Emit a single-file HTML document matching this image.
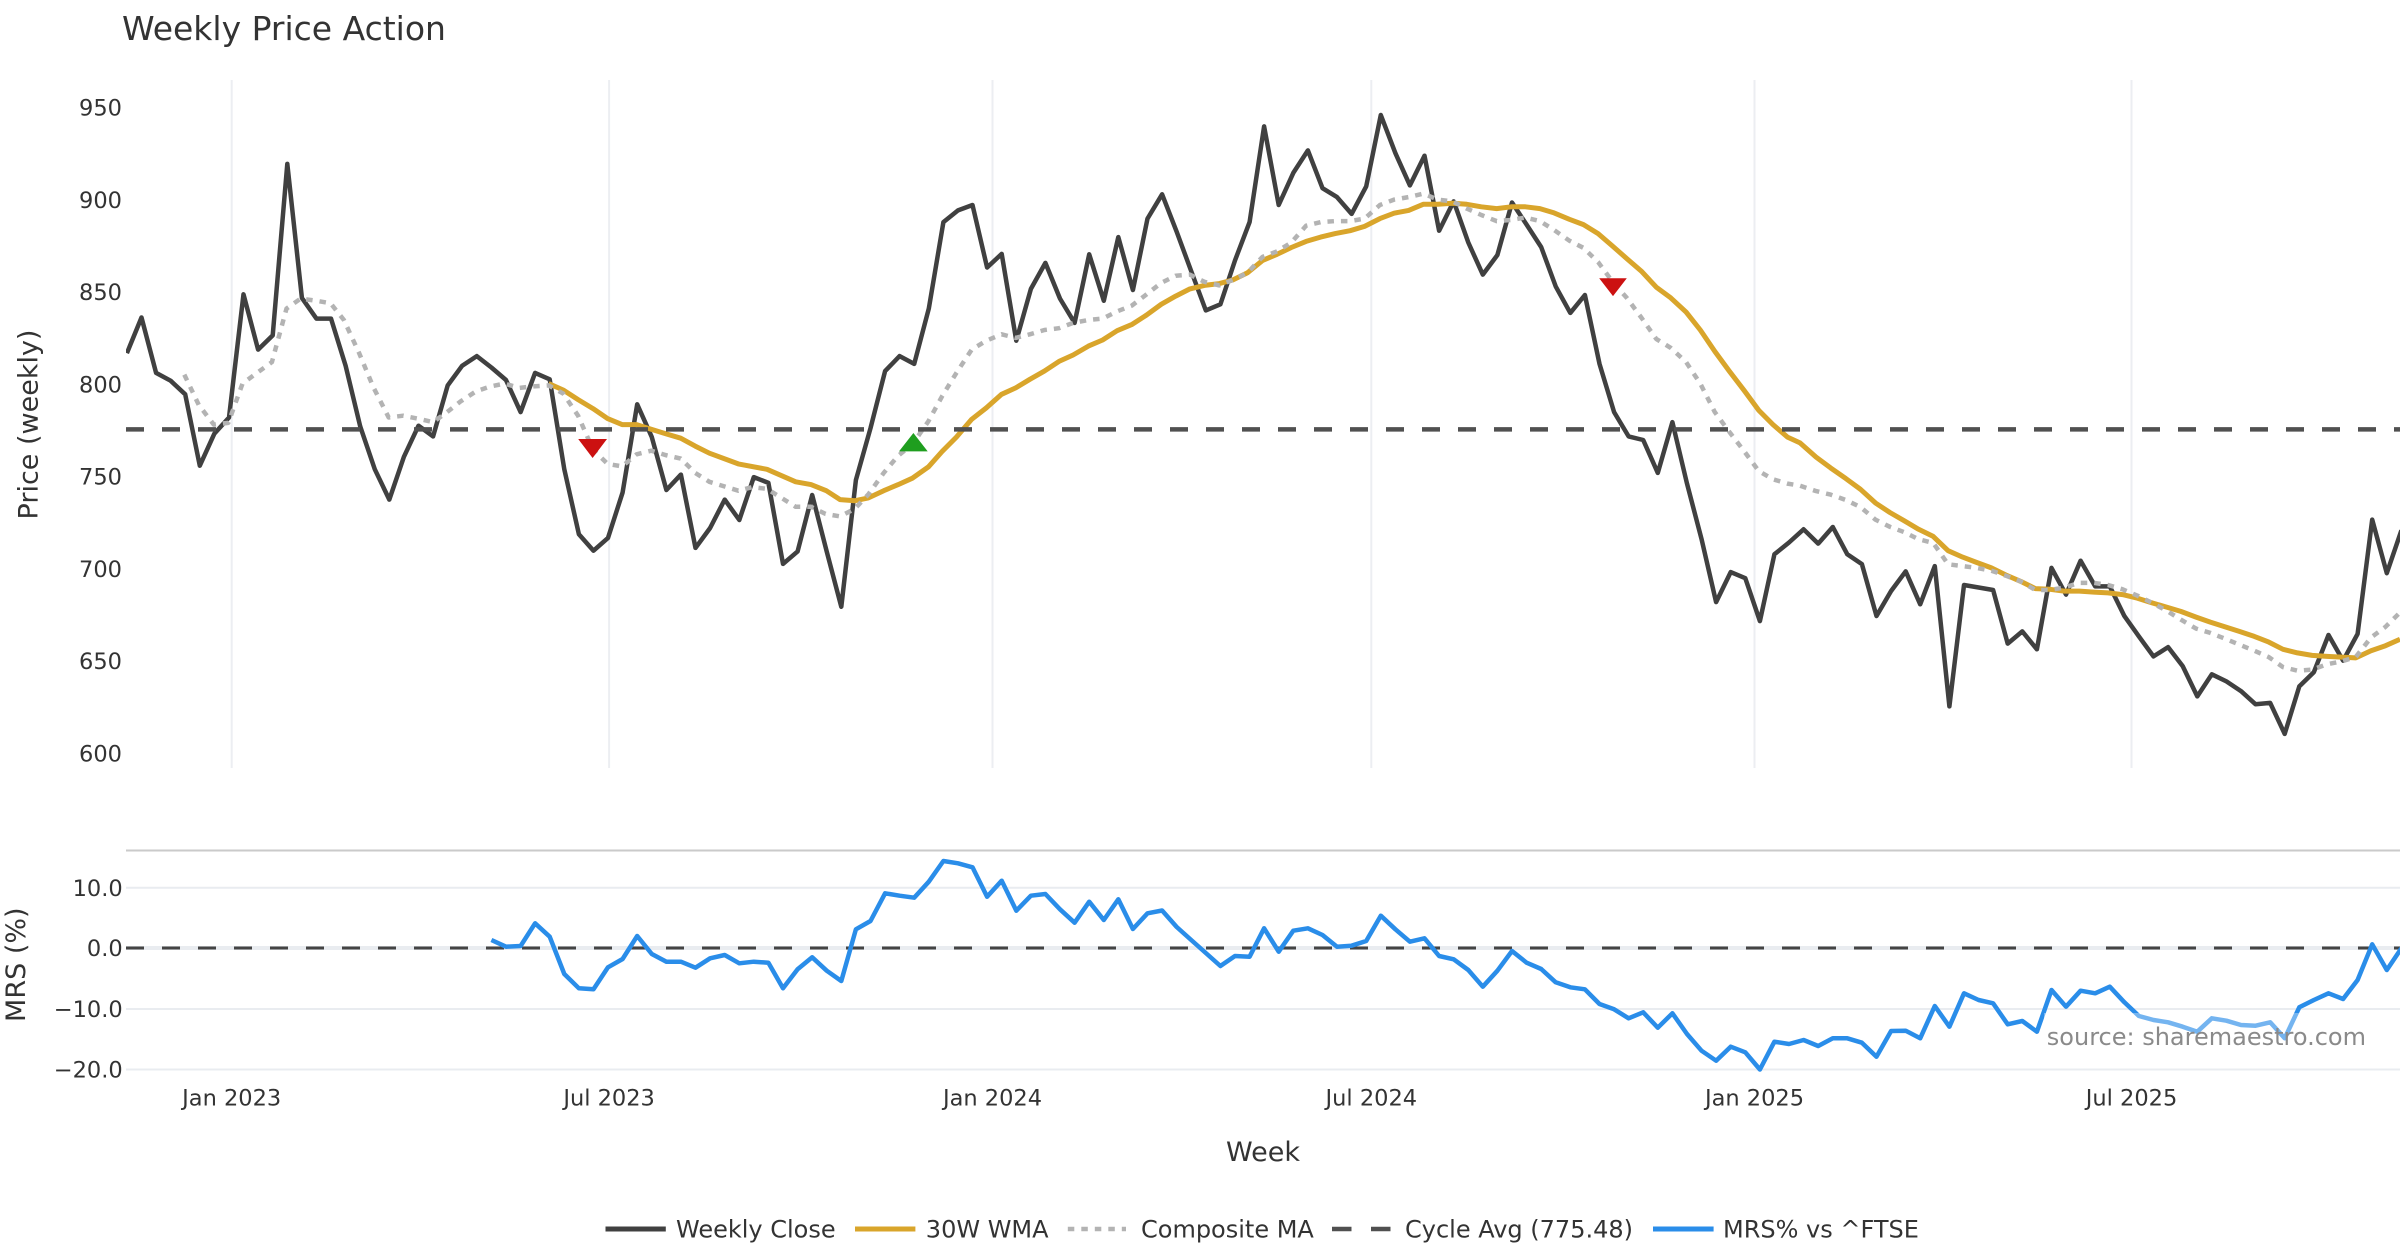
<!DOCTYPE html>
<html>
<head>
<meta charset="utf-8">
<style>
html,body{margin:0;padding:0;background:#fff;}
svg{display:block;}
text{font-family:"DejaVu Sans","Liberation Sans",sans-serif;fill:#333;}
</style>
</head>
<body>
<svg width="2400" height="1260" viewBox="0 0 2400 1260" xmlns="http://www.w3.org/2000/svg">
<defs>
<clipPath id="pm"><rect x="126" y="78" width="2274" height="692"/></clipPath>
<clipPath id="pl"><rect x="126" y="845" width="2274" height="232"/></clipPath>
</defs>
<rect width="2400" height="1260" fill="#fff"/>

<!-- Title -->
<text x="122" y="40" font-size="33">Weekly Price Action</text>

<!-- Main vertical gridlines -->
<g stroke="#eceef2" stroke-width="2">
<line x1="231.7" y1="80" x2="231.7" y2="768"/>
<line x1="609.1" y1="80" x2="609.1" y2="768"/>
<line x1="992.5" y1="80" x2="992.5" y2="768"/>
<line x1="1371.3" y1="80" x2="1371.3" y2="768"/>
<line x1="1754.5" y1="80" x2="1754.5" y2="768"/>
<line x1="2131.5" y1="80" x2="2131.5" y2="768"/>
</g>

<!-- Main y tick labels -->
<g font-size="22.5" text-anchor="end">
<text x="122" y="115.5">950</text>
<text x="122" y="207.8">900</text>
<text x="122" y="300.1">850</text>
<text x="122" y="392.4">800</text>
<text x="122" y="484.6">750</text>
<text x="122" y="576.9">700</text>
<text x="122" y="669.2">650</text>
<text x="122" y="761.5">600</text>
</g>
<text font-size="27" text-anchor="middle" transform="translate(37.5,424.5) rotate(-90)">Price (weekly)</text>

<g clip-path="url(#pm)" fill="none" stroke-linejoin="round">
<!-- Weekly close -->
<polyline stroke="#404040" stroke-width="4.5" points="126.9,353.2 141.5,317.5 156.1,372.9 170.6,380.7 185.2,394.3 199.8,465.7 214.4,433.6 229,417.5 243.5,294.3 258.1,349.6 272.7,335.4 287.3,163.9 301.9,297.9 316.4,318.6 331,318.6 345.6,365.7 360.2,426.4 374.8,469.3 389.3,499.6 403.9,456.8 418.5,425.7 433.1,436.4 447.7,385.4 462.2,365.7 476.8,356.1 491.4,367.5 506,380 520.6,412.1 535.1,372.9 549.7,379.3 564.3,469.3 578.9,534.3 593.5,550.7 608,537.9 622.6,492.5 637.2,404.3 651.8,437.1 666.4,490 680.9,474.6 695.5,547.9 710.1,528 724.7,499.6 739.3,520 753.8,477.1 768.4,482.9 783,563.9 797.6,551.4 812.2,495 826.7,551.4 841.3,606.8 855.9,480 870.5,428.2 885.1,371.1 899.6,356.1 914.2,363.9 928.8,308.6 943.4,222.1 958,210.4 972.5,205 987.1,267.5 1001.7,253.9 1016.3,340.7 1030.9,288.9 1045.4,262.9 1060,298.6 1074.6,322.9 1089.2,254.3 1103.8,300.7 1118.3,237.1 1132.9,290 1147.5,218.6 1162.1,194.3 1176.7,231.8 1191.2,271.1 1205.8,310.4 1220.4,304.3 1235,260.4 1249.6,222.1 1264.1,126.4 1278.7,205 1293.3,172.9 1307.9,150.4 1322.5,188.2 1337,197.1 1351.6,213.9 1366.2,186.4 1380.8,115 1395.4,153.2 1409.9,185.4 1424.5,155.7 1439.1,230.7 1453.7,201.4 1468.3,242.5 1482.8,274.6 1497.4,255 1512,202.5 1526.6,224.6 1541.2,247.1 1555.7,286.4 1570.3,312.9 1584.9,295 1599.5,363.9 1614.1,412.1 1628.6,436.4 1643.2,440 1657.8,472.9 1672.4,422.1 1687,483.6 1701.5,538.9 1716.1,602.1 1730.7,572.1 1745.3,578.2 1759.9,621.1 1774.4,554.3 1789,542.5 1803.6,529.3 1818.2,543.6 1832.8,527 1847.3,554.3 1861.9,564.1 1876.5,616 1891.1,591 1905.7,571.4 1920.2,604.3 1934.8,566.1 1949.4,706.4 1964,585 1978.6,587.5 1993.1,590 2007.7,643.6 2022.3,631.4 2036.9,649.3 2051.5,567.9 2066,594.6 2080.6,560.7 2095.2,586.4 2109.8,586.4 2124.4,616.1 2138.9,636.4 2153.5,656.4 2168.1,647.1 2182.7,666.1 2197.3,696.4 2211.8,674.3 2226.4,681.4 2241,691.1 2255.6,704.3 2270.2,702.9 2284.7,733.9 2299.3,686.4 2313.9,672.1 2328.5,635 2343.1,660.7 2357.6,633.9 2372.2,519.6 2386.8,573.2 2401.4,530.4"/>
<!-- 30W WMA -->
<polyline stroke="#d9a52b" stroke-width="5" points="548.6,383.6 563.2,390 578.1,399.6 593,408.6 607.6,418.6 622.1,424.6 636.6,424.6 651.2,429.3 665.3,433.6 680.7,438.2 695.2,446.1 709.4,453.2 738.3,463.9 767,469.3 795.7,481.8 811,484.6 826.3,490.7 840.1,499.6 855,500.7 868.4,497.9 883.7,490.7 898.2,484.6 912.4,478.2 928.5,466.8 942.2,451.4 956.4,437.1 971.7,419.3 986.3,407.9 1001.6,394.3 1015.7,387.9 1029.9,379.3 1044.4,371.1 1059,361.4 1073.1,355 1088.4,346.1 1102.6,340 1117.1,330.7 1131.7,324.6 1146.6,315 1161.2,304.3 1175.7,296.1 1189.9,288.9 1204.4,285.4 1219.3,283.6 1232.7,280 1247.3,272.9 1262.6,260.4 1277.1,254.3 1291.3,247.5 1306.1,241.4 1320.6,237.1 1335.2,233.6 1350.1,230.7 1364.6,226.4 1379.9,218.6 1394.1,213.2 1408.6,210.4 1423.2,204.3 1437.7,204.3 1452.6,203.2 1466.8,204.3 1481.3,206.8 1496.7,208.6 1511.2,206.8 1525.4,206.8 1539.9,208.6 1554.1,212.9 1569.4,219.3 1583.5,224.6 1598.1,233.6 1612.6,246.1 1626.8,258.6 1641.3,271.1 1656.2,287.1 1670.8,297.9 1686.1,312.1 1700.3,330 1714.8,351.4 1729.3,371.1 1744.3,390.7 1758.8,410.4 1773,424.6 1787.5,437.1 1800,442.9 1816.1,457.1 1830.6,467.9 1845.9,478.6 1860.5,489.3 1875.4,502.9 1889.9,512.5 1904.1,520.7 1918.6,529.3 1933.2,536.4 1948.1,550.7 1962.6,557.1 1976.8,562.5 1991.4,567.9 2005.9,575 2020.8,581.4 2035.4,588.6 2049.9,589.3 2064.1,591.1 2079.4,591.1 2093.9,592.1 2108.1,592.9 2122.6,594.6 2137.5,598.2 2152.1,602.9 2166.6,607.1 2180.8,611.4 2196.1,617.1 2210.3,622.1 2224.8,626.8 2239.3,631.4 2254.3,636.4 2268.8,642.1 2283,649.3 2297.5,652.9 2312.1,655.4 2327,656.4 2341.5,657.1 2355.7,657.9 2371,650.7 2385.5,645.7 2400,639.3"/>
<!-- Composite MA -->
<polyline stroke="#b3b3b3" stroke-width="4.5" stroke-dasharray="6.5,7" points="184.3,374.6 198.8,405 213.8,424.6 228.3,422.9 242.5,383.6 257,372.9 271.9,362.1 286.5,308.6 300.6,298.6 315.9,300.7 330.5,303.2 343.9,320 359.2,353.2 373.3,387.1 388.7,417.5 403.2,415.7 417.7,418.6 433,422.1 446.1,412.9 460.6,401.4 475.9,391.4 490.5,386.4 504.6,383.6 519.2,387.9 533.3,386.4 548.6,385.4 563.2,393.6 578.1,415.7 593,449.6 607.6,463.9 622.1,466.4 636.6,454.3 651.2,450.7 665.3,455 680.7,458.6 695.2,472.9 709.4,481.8 738.3,490.7 752.4,487.1 767,488.9 781.5,497.9 795.7,506.8 811,506.8 825.5,513.9 840.1,516.4 855,508.6 868.4,494.3 883.7,472.9 898.2,455.7 912.4,444.3 928.5,421.1 942.2,396.1 956.4,372.9 971.7,349.6 986.3,340.7 1001.6,334.3 1015.7,337.9 1029.9,334.3 1044.4,330 1059,328.2 1073.1,322.9 1088.4,320 1102.6,318.6 1117.1,311.4 1131.7,305.7 1146.6,294.3 1161.2,282.9 1175.7,275.7 1189.9,274.6 1204.4,281.8 1219.3,285.4 1232.7,280 1247.3,272.9 1262.6,256.8 1277.1,251.4 1291.3,242.5 1306.1,225.7 1320.6,222.1 1335.2,221.1 1350.1,221.1 1364.6,218.6 1379.9,205 1394.1,199.6 1408.6,197.1 1423.2,193.6 1437.7,199.6 1452.6,201.4 1466.8,208.6 1481.3,215 1496.7,221.1 1511.2,220 1525.4,217.5 1539.9,221.1 1554.1,230 1569.4,240.7 1583.5,247.9 1598.1,262.1 1612.6,281.8 1626.8,297.9 1641.3,317.5 1656.2,338.9 1670.8,347.9 1686.1,362.1 1700.3,383.6 1714.8,412.1 1729.3,431.8 1744.3,451.4 1758.8,471.1 1773,479.3 1787.5,483.6 1800,485.7 1816.1,491.1 1830.6,494.6 1845.9,500 1860.5,507.1 1875.4,519.6 1889.9,526.8 1904.1,532.1 1918.6,539.3 1933.2,542.9 1948.1,564.3 1962.6,566.1 1976.8,567.9 1991.4,570.7 2005.9,575.7 2020.8,581.4 2035.4,590 2049.9,590 2064.1,587.5 2079.4,582.9 2093.9,582.9 2108.1,585 2122.6,589.3 2137.5,595.7 2152.1,602.9 2166.6,610.7 2180.8,619.6 2196.1,628.6 2210.3,632.9 2224.8,638.6 2239.3,644.6 2254.3,650.7 2268.8,657.1 2283,667.1 2297.5,670.7 2312.1,669.6 2327,664.3 2341.5,661.4 2355.7,657.1 2371,637.5 2385.5,626.8 2400,612.5"/>
<!-- Cycle avg -->
<line x1="126" y1="429.4" x2="2400" y2="429.4" stroke="#505050" stroke-width="4.5" stroke-dasharray="18,18"/>
<!-- Signal markers -->
<polygon fill="#cc1111" stroke="none" points="578.2,439 607,439 592.6,458"/>
<polygon fill="#1f9e1f" stroke="none" points="899,451.4 927.7,451.4 913.4,433"/>
<polygon fill="#cc1111" stroke="none" points="1599.2,278.2 1626.8,278.2 1613,296.1"/>
</g>

<!-- MRS panel -->
<line x1="126" y1="850.5" x2="2400" y2="850.5" stroke="#cacaca" stroke-width="2"/>
<g stroke="#e9ecf0" stroke-width="2">
<line x1="126" y1="887.7" x2="2400" y2="887.7"/>
<line x1="126" y1="948" x2="2400" y2="948" stroke-width="4"/>
<line x1="126" y1="1009" x2="2400" y2="1009"/>
<line x1="126" y1="1069.5" x2="2400" y2="1069.5"/>
</g>
<line x1="126" y1="948" x2="2400" y2="948" stroke="#444" stroke-width="3" stroke-dasharray="18,18"/>
<g font-size="22.5" text-anchor="end">
<text x="122.7" y="895.9">10.0</text>
<text x="122.7" y="956.2">0.0</text>
<text x="122.7" y="1017.2">−10.0</text>
<text x="122.7" y="1077.7">−20.0</text>
</g>
<text font-size="27" text-anchor="middle" transform="translate(25,964.7) rotate(-90)">MRS (%)</text>

<g clip-path="url(#pl)">
<polyline fill="none" stroke="#2a8de9" stroke-width="4.5" stroke-linejoin="round" points="491.4,940 506,946.7 520.6,946 535.1,923.3 549.7,936.7 564.3,974 578.9,988.3 593.5,989.3 608,967.3 622.6,959 637.2,936 651.8,954 666.4,961.7 680.9,961.7 695.5,967.7 710.1,958.3 724.7,955 739.3,963.3 753.8,961.7 768.4,962.7 783,988.3 797.6,969.3 812.2,957.3 826.7,970.7 841.3,981 855.9,929.3 870.5,921 885.1,893.3 899.6,895.7 914.2,897.7 928.8,881.7 943.4,861 958,863.3 972.5,867.3 987.1,896.7 1001.7,880.7 1016.3,910.7 1030.9,895.7 1045.4,894 1060,909.3 1074.6,922.7 1089.2,901.7 1103.8,920 1118.3,899.3 1132.9,929 1147.5,913.3 1162.1,910.5 1176.7,927 1191.2,940 1205.8,953 1220.4,966 1235,956 1249.6,956.7 1264.1,928.3 1278.7,951.7 1293.3,930.7 1307.9,928.3 1322.5,935 1337,946.7 1351.6,945.7 1366.2,941 1380.8,915.7 1395.4,929.3 1409.9,941.7 1424.5,938.3 1439.1,956 1453.7,959.3 1468.3,970 1482.8,986.7 1497.4,970.7 1512,951 1526.6,962.7 1541.2,969 1555.7,982.3 1570.3,987.3 1584.9,989.3 1599.5,1004 1614.1,1009.3 1628.6,1018.3 1643.2,1012.3 1657.8,1027.7 1672.4,1013.3 1687,1034 1701.5,1050.7 1716.1,1060.7 1730.7,1046.7 1745.3,1052.3 1759.9,1069.5 1774.4,1041.7 1789,1044 1803.6,1040 1818.2,1046 1832.8,1038.3 1847.3,1038.3 1861.9,1042.7 1876.5,1056.7 1891.1,1031 1905.7,1030.7 1920.2,1038.3 1934.8,1006 1949.4,1026.7 1964,993.3 1978.6,1000 1993.1,1003.3 2007.7,1024.3 2022.3,1021 2036.9,1031.7 2051.5,990 2066,1006.7 2080.6,990.7 2095.2,993.3 2109.8,986.7 2124.4,1002.3 2138.9,1016 2153.5,1020 2168.1,1022.3 2182.7,1026.7 2197.3,1031.7 2211.8,1018.3 2226.4,1020.7 2241,1025 2255.6,1025.7 2270.2,1022.3 2284.7,1038.3 2299.3,1007.3 2313.9,1000 2328.5,993.3 2343.1,999 2357.6,980 2372.2,944.3 2386.8,970 2401.4,948.3"/>
</g>

<!-- source annotation -->
<rect x="2044" y="1013" width="326" height="38" fill="#fff" fill-opacity="0.35"/>
<text x="2366" y="1045" font-size="24" text-anchor="end" style="fill:#8a8a8a">source: sharemaestro.com</text>

<!-- X tick labels -->
<g font-size="22.5" text-anchor="middle">
<text x="231.7" y="1105.5">Jan 2023</text>
<text x="609.1" y="1105.5">Jul 2023</text>
<text x="992.5" y="1105.5">Jan 2024</text>
<text x="1371.3" y="1105.5">Jul 2024</text>
<text x="1754.5" y="1105.5">Jan 2025</text>
<text x="2131.5" y="1105.5">Jul 2025</text>
</g>
<text x="1263" y="1161" font-size="27" text-anchor="middle">Week</text>

<!-- Legend -->
<g stroke-width="5">
<line x1="605.5" y1="1229" x2="665.8" y2="1229" stroke="#404040"/>
<line x1="855" y1="1229" x2="915.4" y2="1229" stroke="#d9a52b"/>
<line x1="1067.8" y1="1229" x2="1126" y2="1229" stroke="#b3b3b3" stroke-width="4.5" stroke-dasharray="6.5,7"/>
<line x1="1332" y1="1229" x2="1391" y2="1229" stroke="#505050" stroke-width="4.5" stroke-dasharray="19.5,19.5"/>
<line x1="1653" y1="1229" x2="1713.6" y2="1229" stroke="#2a8de9"/>
</g>
<g font-size="24">
<text x="676" y="1237.5">Weekly Close</text>
<text x="925.8" y="1237.5">30W WMA</text>
<text x="1141" y="1237.5">Composite MA</text>
<text x="1405" y="1237.5">Cycle Avg (775.48)</text>
<text x="1723" y="1237.5">MRS% vs ^FTSE</text>
</g>
</svg>
</body>
</html>
